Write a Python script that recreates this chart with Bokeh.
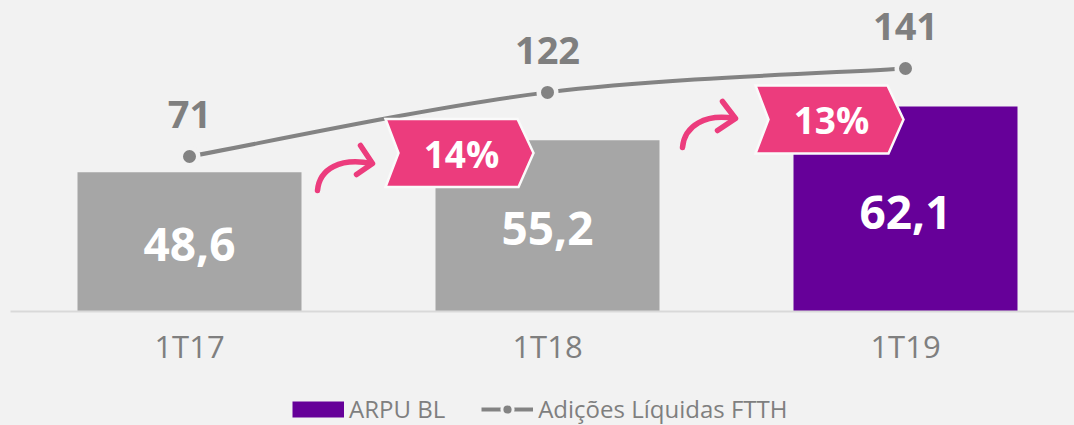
from bokeh.plotting import figure
from bokeh.layouts import column
from bokeh.models import (Range1d, LinearAxis, FixedTicker, ColumnDataSource,
                          Legend, LegendItem)
from bokeh.embed import file_html
from bokeh.resources import INLINE
from bokeh.core.properties import value

# ---------------- data ----------------
categories = ["1T17", "1T18", "1T19"]
arpu_bl = [48.6, 55.2, 62.1]
adicoes_ftth = [71, 122, 141]
growth_labels = ["14%", "13%"]
bar_colors = ["#a6a6a6", "#a6a6a6", "#660099"]
series_names = ["ARPU BL", "Adições Líquidas FTTH"]

# ---------------- styles / layout ----------------
BG = "#f2f2f2"
GRAY_TXT = "#7f7f7f"
LINE_GRAY = "#838383"
PINK = "#ec3c7d"
PURPLE = "#660099"
FONT = "Open Sans"

W = 1074
H1 = 380              # main chart height
H2 = 45               # legend strip height
LEFT = 10
FRAME_H = 311
BOTTOM = H1 - FRAME_H
PX_X = 358.0          # px per category
X_START = -0.5
X_END = X_START + (W - LEFT) / PX_X
Y0 = 20.0             # bar axis start
PX_Y = 4.867          # px per bar unit
Y_END = Y0 + FRAME_H / PX_Y
LINE_PX = 1.2571      # px per line unit
LINE_START = 71 - (FRAME_H - 156) / LINE_PX
LINE_END = LINE_START + FRAME_H / LINE_PX


def fx(xr):
    """canvas-pixel x -> data x"""
    return X_START + (xr - LEFT) / PX_X


def fy(yr):
    """canvas-pixel y -> bar-axis data y"""
    return Y0 + (FRAME_H - yr) / PX_Y


p = figure(width=W, height=H1,
           x_range=Range1d(X_START, X_END), y_range=Range1d(Y0, Y_END),
           output_backend="svg", toolbar_location=None,
           x_axis_location=None, y_axis_location=None,
           min_border_left=LEFT, min_border_right=0,
           min_border_top=0, min_border_bottom=BOTTOM,
           background_fill_color=BG, border_fill_color=BG,
           outline_line_color=None)
p.xgrid.visible = False
p.ygrid.visible = False
p.extra_y_ranges = {"line": Range1d(LINE_START, LINE_END)}

xs = list(range(len(categories)))

# ---------------- bars ----------------
bar_src = ColumnDataSource(dict(
    x=xs, top=arpu_bl, color=bar_colors,
    mid=[(v + Y0) / 2 for v in arpu_bl],
    label=[f"{v:.1f}".replace(".", ",") for v in arpu_bl],
))
p.vbar(x="x", top="top", bottom=Y0, width=224 / PX_X,
       fill_color="color", line_color=None, source=bar_src)
p.text(x="x", y="mid", text="label", source=bar_src,
       text_align="center", text_baseline="middle", y_offset=3,
       text_color="white", text_font=value(FONT), text_font_style="bold",
       text_font_size="46px")

# ---------------- smoothed line (Bezier through the data points) ----------------
pts = list(zip(xs, adicoes_ftth))
x0s, y0s, x1s, y1s, cx0, cy0, cx1, cy1 = [], [], [], [], [], [], [], []
for i in range(len(pts) - 1):
    pm = pts[i - 1] if i > 0 else pts[i]
    pa, pb = pts[i], pts[i + 1]
    pn = pts[i + 2] if i + 2 < len(pts) else pts[i + 1]
    x0s.append(pa[0]); y0s.append(pa[1])
    x1s.append(pb[0]); y1s.append(pb[1])
    cx0.append(pa[0] + (pb[0] - pm[0]) / 6); cy0.append(pa[1] + (pb[1] - pm[1]) / 6)
    cx1.append(pb[0] - (pn[0] - pa[0]) / 6); cy1.append(pb[1] - (pn[1] - pa[1]) / 6)
p.bezier(x0=x0s, y0=y0s, x1=x1s, y1=y1s, cx0=cx0, cy0=cy0, cx1=cx1, cy1=cy1,
         line_color=LINE_GRAY, line_width=4, y_range_name="line")

line_src = ColumnDataSource(dict(x=xs, y=adicoes_ftth, label=[str(v) for v in adicoes_ftth]))
p.scatter(x="x", y="y", source=line_src, size=17.5, fill_color=LINE_GRAY,
          line_color=BG, line_width=4.5, y_range_name="line")
p.text(x="x", y="y", text="label", source=line_src, y_range_name="line",
       y_offset=-42, text_align="center", text_baseline="middle",
       text_color=GRAY_TXT, text_font=value(FONT), text_font_style="bold",
       text_font_size="38px")

# ---------------- growth badges and curved arrows (decoration) ----------------
badge_centers = [(459, 152.5), (829, 119)]
badge_shape = [(-74, -34), (58, -34), (74, 0), (59, 34), (-74, 34), (-61, 0)]
bxs, bys, tx, ty = [], [], [], []
for (cx, cy) in badge_centers:
    bxs.append([fx(cx + dx) for dx, dy in badge_shape])
    bys.append([fy(cy + dy) for dx, dy in badge_shape])
    tx.append(fx(cx + 2)); ty.append(fy(cy))
p.patches(bxs, bys, fill_color=PINK, line_color="#fafafa", line_width=2.5,
          line_join="miter")
p.text(x=tx, y=ty, text=growth_labels, text_align="center", text_baseline="middle",
       text_color="white", text_font=value(FONT), text_font_style="bold",
       text_font_size="37px")

arrows = [
    dict(p0=(317, 190), c0=(319, 168), c1=(340, 157), p1=(371, 163),
         h1=(360, 145), h2=(356, 174)),
    dict(p0=(682, 147), c0=(684, 125), c1=(705, 113), p1=(734, 118),
         h1=(722, 101), h2=(717, 130)),
]
p.bezier(x0=[fx(a["p0"][0]) for a in arrows], y0=[fy(a["p0"][1]) for a in arrows],
         x1=[fx(a["p1"][0]) for a in arrows], y1=[fy(a["p1"][1]) for a in arrows],
         cx0=[fx(a["c0"][0]) for a in arrows], cy0=[fy(a["c0"][1]) for a in arrows],
         cx1=[fx(a["c1"][0]) for a in arrows], cy1=[fy(a["c1"][1]) for a in arrows],
         line_color=PINK, line_width=5.5, line_cap="round")
p.multi_line(xs=[[fx(a["h1"][0]), fx(a["p1"][0] + 1), fx(a["h2"][0])] for a in arrows],
             ys=[[fy(a["h1"][1]), fy(a["p1"][1]), fy(a["h2"][1])] for a in arrows],
             line_color=PINK, line_width=5.5, line_cap="round", line_join="round")

# ---------------- x axis ----------------
xaxis = LinearAxis(ticker=FixedTicker(ticks=xs),
                   major_label_overrides={i: c for i, c in enumerate(categories)},
                   axis_line_color="#d9d9d9", axis_line_width=2,
                   major_tick_line_color=None, minor_tick_line_color=None,
                   major_label_text_font=FONT, major_label_text_font_size="31px",
                   major_label_text_color=GRAY_TXT, major_label_standoff=7)
p.add_layout(xaxis, "below")

# ---------------- legend strip ----------------
lg = figure(width=W, height=H2, x_range=Range1d(0, W), y_range=Range1d(0, H2),
            output_backend="svg", toolbar_location=None,
            x_axis_location=None, y_axis_location=None,
            min_border_left=0, min_border_right=0, min_border_top=0, min_border_bottom=0,
            background_fill_color=BG, border_fill_color=BG, outline_line_color=None)
lg.xgrid.visible = False
lg.ygrid.visible = False
# legend swatches (kept outside the visible range; only drawn inside the legend)
sw_bar = lg.line(x=[-300, -250], y=[1, 1], line_color=PURPLE, line_width=16)
sw_line = lg.line(x=[-200, -150], y=[1, 1], line_color=LINE_GRAY, line_width=4)
sw_pt = lg.scatter(x=[-100], y=[1], size=10, fill_color=LINE_GRAY,
                   line_color=BG, line_width=3)
legend = Legend(items=[
    LegendItem(label=series_names[0], renderers=[sw_bar]),
    LegendItem(label=series_names[1], renderers=[sw_line, sw_pt]),
], orientation="horizontal", location=(282, 0),
    glyph_width=52, glyph_height=28, label_standoff=5, spacing=36,
    padding=0, margin=0, border_line_color=None, background_fill_alpha=0,
    label_text_font=FONT, label_text_font_size="24px", label_text_color=GRAY_TXT)
lg.add_layout(legend)

layout = column(p, lg, spacing=0, styles={"background-color": BG})
open("out.html", "w").write(file_html(layout, INLINE))
